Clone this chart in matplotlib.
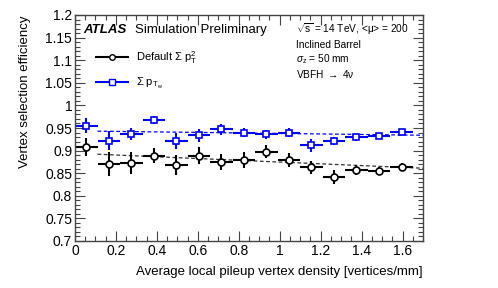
import matplotlib
matplotlib.use("Agg")
import matplotlib.pyplot as plt
from matplotlib.lines import Line2D
from matplotlib.ticker import MultipleLocator, FixedFormatter, FixedLocator

plt.rcParams["font.family"] = ["Liberation Sans", "DejaVu Sans"]
plt.rcParams["mathtext.fontset"] = "custom"
plt.rcParams["mathtext.rm"] = "Liberation Sans"
plt.rcParams["mathtext.it"] = "Liberation Sans:italic"

# bin centres and half widths (vertices/mm)
density = [0.055, 0.165, 0.275, 0.385, 0.495, 0.605, 0.715, 0.825,
           0.935, 1.045, 1.155, 1.265, 1.375, 1.485, 1.595]
density_err = [0.055] * 15

eff_default = [0.907, 0.870, 0.873, 0.889, 0.868, 0.889, 0.874, 0.879,
               0.898, 0.879, 0.863, 0.842, 0.857, 0.854, 0.864]
err_default = [0.020, 0.027, 0.025, 0.017, 0.022, 0.018, 0.018, 0.017,
               0.015, 0.015, 0.014, 0.015, 0.012, 0.009, 0.008]

eff_ptw = [0.955, 0.922, 0.937, 0.968, 0.921, 0.934, 0.947, 0.940,
           0.936, 0.940, 0.912, 0.921, 0.929, 0.933, 0.941]
err_ptw = [0.017, 0.021, 0.013, 0.009, 0.018, 0.014, 0.012, 0.011,
           0.010, 0.009, 0.014, 0.009, 0.008, 0.007, 0.007]

# linear fit end points
fit_x = [0.11, 1.7]
fit_default = [0.892, 0.861]
fit_ptw = [0.943, 0.934]

x_ticks = [0, 0.2, 0.4, 0.6, 0.8, 1.0, 1.2, 1.4, 1.6]
x_labels = ["0", "0.2", "0.4", "0.6", "0.8", "1", "1.2", "1.4", "1.6"]
y_ticks = [0.7, 0.75, 0.8, 0.85, 0.9, 0.95, 1.0, 1.05, 1.1, 1.15, 1.2]
y_labels = ["0.7", "0.75", "0.8", "0.85", "0.9", "0.95", "1", "1.05",
            "1.1", "1.15", "1.2"]

fig = plt.figure(figsize=(4.98, 2.88), dpi=100)
ax = fig.add_axes([75 / 498, 1 - 241 / 288, 348 / 498, 226 / 288])

ax.plot(fit_x, fit_default, ls=(0, (3, 2)), color="#333333", lw=0.9)
ax.plot(fit_x, fit_ptw, ls=(0, (3, 2)), color="blue", lw=0.9)

ax.errorbar(density, eff_default, xerr=density_err, yerr=err_default,
            fmt="o", ms=5, mfc="white", mec="black", mew=1.2,
            ecolor="black", elinewidth=1.5, capsize=0)
ax.errorbar(density, eff_ptw, xerr=density_err, yerr=err_ptw,
            fmt="s", ms=5, mfc="white", mec="blue", mew=1.2,
            ecolor="blue", elinewidth=1.5, capsize=0)

ax.set_xlim(0, 1.7)
ax.set_ylim(0.7, 1.2)
ax.xaxis.set_major_locator(FixedLocator(x_ticks))
ax.xaxis.set_major_formatter(FixedFormatter(x_labels))
ax.xaxis.set_minor_locator(MultipleLocator(0.05))
ax.yaxis.set_major_locator(FixedLocator(y_ticks))
ax.yaxis.set_major_formatter(FixedFormatter(y_labels))
ax.yaxis.set_minor_locator(MultipleLocator(0.01))
ax.tick_params(which="both", direction="in", top=True, right=True,
               labelsize=10, pad=2, width=0.8, color="#444444")
ax.tick_params(which="major", length=7)
ax.tick_params(which="minor", length=3.5)
for s in ax.spines.values():
    s.set_color("#444444")
    s.set_linewidth(1.0)

ax.set_xlabel("Average local pileup vertex density [vertices/mm]",
              fontsize=9.5, loc="right", labelpad=6)
ax.set_ylabel("Vertex selection efficiency", fontsize=9.5, loc="top",
              labelpad=10)

handles = [
    Line2D([], [], color="black", lw=1.5, marker="o", ms=4, mfc="white",
           mec="black", mew=1.0),
    Line2D([], [], color="blue", lw=1.5, marker="s", ms=4, mfc="white",
           mec="blue", mew=1.0),
]
labels = [r"Default $\Sigma$ p$_\mathrm{T}^\mathrm{2}$",
          r"$\Sigma$ p$_{\mathrm{T}_\mathrm{w}}$"]
ax.legend(handles, labels, loc="upper left", bbox_to_anchor=(0.06, 0.85),
          frameon=False, fontsize=8, handlelength=2.9, labelspacing=0.9,
          handletextpad=0.7, borderaxespad=0, borderpad=0)

ax.text(0.024, 0.935, "ATLAS", transform=ax.transAxes, fontsize=9.5,
        fontweight="bold", style="italic", va="center")
ax.text(0.172, 0.935, "Simulation Preliminary", transform=ax.transAxes,
        fontsize=9.5, va="center")

info = [r"$\sqrt{\mathrm{s}}$ = 14 TeV, <μ> = 200",
        "Inclined Barrel",
        r"$\sigma_\mathrm{z}$ = 50 mm",
        r"VBFH $\rightarrow$ 4ν"]
for i, line in enumerate(info):
    ax.text(0.634, 0.935 - i * 0.066, line, transform=ax.transAxes,
            fontsize=7.3, va="center")

fig.savefig("out.png", dpi=100)
